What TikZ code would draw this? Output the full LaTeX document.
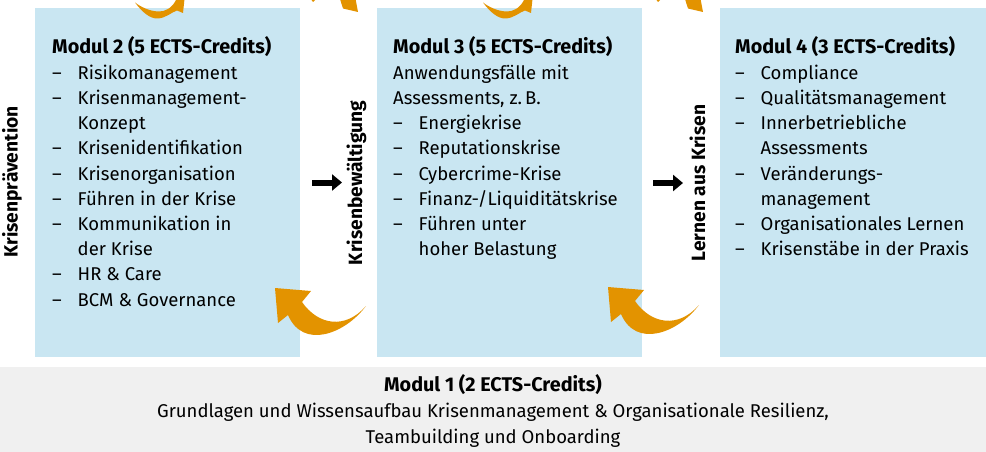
\documentclass[tikz,border=0pt]{standalone}
\usepackage{fontspec}
\setmainfont{Fira Sans}
\usetikzlibrary{arrows.meta}
\definecolor{boxblue}{RGB}{201,230,242}
\definecolor{boxgray}{RGB}{240,240,240}
\definecolor{swoosh}{RGB}{227,147,0}
\newcommand\itemdash{\makebox[25.5pt][l]{–}}
\newcommand\itemcont{\hspace*{25.5pt}}
\begin{document}
\begin{tikzpicture}[x=1pt,y=-1pt,
  modbox/.style={fill=boxblue,inner sep=0,anchor=north west},
  basebox/.style={fill=boxgray,inner sep=0,anchor=north west},
  txt/.style={inner sep=0,anchor=base west,font=\fontsize{18.5}{22}\selectfont},
  ttl/.style={txt,font=\fontsize{19.8}{22}\selectfont\bfseries},
  phase/.style={inner sep=0,anchor=base,rotate=90,font=\fontsize{19.2}{22}\selectfont\bfseries},
  flow/.style={line width=6pt,-{Triangle[length=10pt,width=16pt]}},
  swooshfill/.style={fill=swoosh}]
\useasboundingbox (0,0) rectangle (986,452);
\begin{scope}
\clip (0,0) rectangle (986,452);

% module boxes
\node[modbox,minimum width=265,minimum height=349] (m2) at (35,8) {};
\node[modbox,minimum width=265,minimum height=349] (m3) at (377,8) {};
\node[modbox,minimum width=266,minimum height=349] (m4) at (720,8) {};
\node[basebox,minimum width=986,minimum height=85] (m1) at (0,367) {};

% Modul 2
\node[ttl] (m2t) at (52,54) {Modul 2 (5 ECTS-Credits)};
\foreach \t [count=\k] in {{\itemdash Risikomanagement},{\itemdash Krisenmanagement-},
  {\itemcont Konzept},{\itemdash Krisenidentifikation},{\itemdash Krisenorganisation},
  {\itemdash Führen in der Krise},{\itemdash Kommunikation in},{\itemcont der Krise},
  {\itemdash HR \& Care},{\itemdash BCM \& Governance}}
  \node[txt] (m2l\k) at (52,54+25.2*\k) {\t};

% Modul 3
\node[ttl] (m3t) at (393,54) {Modul 3 (5 ECTS-Credits)};
\foreach \t [count=\k] in {{Anwendungsfälle mit},{Assessments, z.\,B.},
  {\itemdash Energiekrise},{\itemdash Reputationskrise},{\itemdash Cybercrime-Krise},
  {\itemdash Finanz-/Liquiditätskrise},{\itemdash Führen unter},{\itemcont hoher Belastung}}
  \node[txt] (m3l\k) at (393,54+25.2*\k) {\t};

% Modul 4
\node[ttl] (m4t) at (735,54) {Modul 4 (3 ECTS-Credits)};
\foreach \t [count=\k] in {{\itemdash Compliance},{\itemdash Qualitätsmanagement},
  {\itemdash Innerbetriebliche},{\itemcont Assessments},{\itemdash Veränderungs-},
  {\itemcont management},{\itemdash Organisationales Lernen},{\itemdash Krisenstäbe in der Praxis}}
  \node[txt] (m4l\k) at (735,54+25.2*\k) {\t};

% Modul 1
\node[ttl,anchor=base] (m1t) at (493,391) {Modul 1 (2 ECTS-Credits)};
\node[txt,anchor=base] (m1a) at (493,417) {Grundlagen und Wissensaufbau Krisenmanagement \& Organisationale Resilienz,};
\node[txt,anchor=base] (m1b) at (493,443) {Teambuilding und Onboarding};

% phase labels
\node[phase] (p1) at (17.5,182) {Krisenprävention};
\node[phase] (p2) at (362,183) {Krisenbewältigung};
\node[phase] (p3) at (705,183) {Lernen aus Krisen};

% black flow arrows
\coordinate (f1a) at (312,182.5); \coordinate (f1b) at (342,182.5);
\coordinate (f2a) at (653,183); \coordinate (f2b) at (683,183);
\draw[flow] (f1a) -- (f1b);
\draw[flow] (f2a) -- (f2b);

% orange swooshes, lower row
\foreach \sx/\sy in {275/288,608/287}
  \fill[swooshfill,shift={(\sx,\sy)}] (0,0) -- (36,3) -- (27,14)
    .. controls (43,37) and (70,42) .. (91,18)
    .. controls (70,46) and (28,62) .. (13,27)
    -- (3,35) -- cycle;

% orange swooshes, upper row
\foreach \sx in {135,483}
  \fill[swooshfill,shift={(\sx,2.5)}] (0,0)
    .. controls (7,9.5) and (15,16.5) .. (23,16)
    .. controls (31,15.5) and (37,9.5) .. (42,8)
    -- (48,10.5) -- (50,-8) -- (40,-8) -- (41,-2.5)
    .. controls (37,5.5) and (30,9.5) .. (23,9)
    .. controls (14,8.5) and (6,4.5) .. cycle;
\foreach \sx in {0,345}
  \fill[swooshfill,shift={(\sx,0)}] (339,-4) -- (343,8.5) -- (358,12) -- (355,-4) -- cycle
    (310,-2) -- (317,-2) -- (313,2) -- cycle;
\end{scope}
\end{tikzpicture}
\end{document}
